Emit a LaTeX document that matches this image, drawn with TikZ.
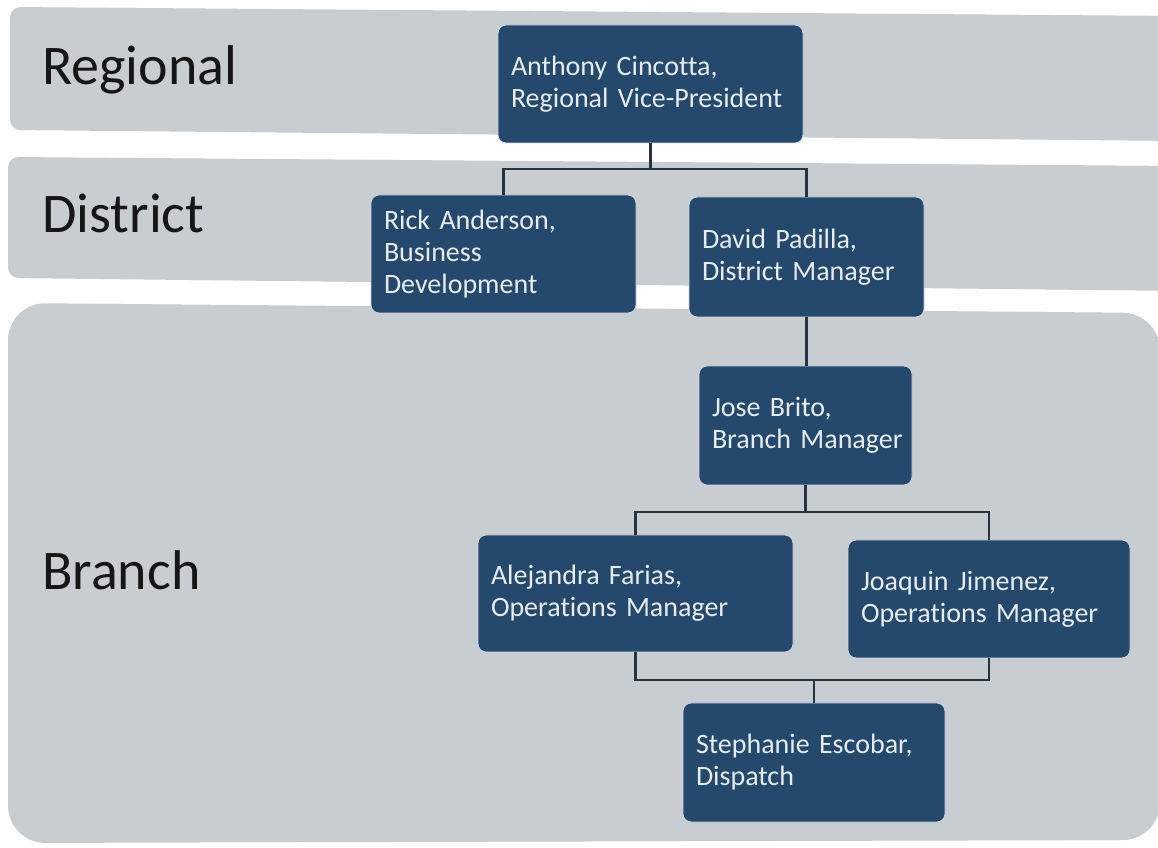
\documentclass[tikz,border=0pt]{standalone}
\usepackage{fontspec}
\setmainfont{Carlito}[Ligatures=NoCommon]
\usetikzlibrary{calc}

\definecolor{band}{RGB}{200,205,209}
\definecolor{boxfill}{RGB}{36,73,108}
\definecolor{boxedge}{RGB}{205,212,218}
\definecolor{boxtext}{RGB}{232,236,240}
\definecolor{wirecol}{RGB}{38,52,66}
\definecolor{labelcol}{RGB}{22,22,22}

% no hyphenation inside the boxes
\lefthyphenmin=64
\hyphenpenalty=10000

\begin{document}
\begin{tikzpicture}[x=0.75pt,y=-0.75pt,
  level/.style={font=\fontsize{42}{50}\selectfont, text=labelcol,
                anchor=base west, inner sep=0pt},
  person/.style={rectangle, rounded corners=6pt, fill=boxfill, draw=boxedge,
                 line width=0.7pt, text=boxtext, align=left,
                 font=\fontsize{21}{24}\selectfont,
                 inner xsep=9.75pt, inner ysep=0pt},
  wire/.style={draw=wirecol, line width=1.6pt}]

\useasboundingbox (0,0) rectangle (1158,848);
\clip (0,0) rectangle (1158,848);
\fill[white] (0,0) rectangle (1158,848);

% level bands
\fill[band, rounded corners=8pt]  (10,7)  -- (1180,16)  -- (1180,141) -- (10,130) -- cycle;
\fill[band, rounded corners=8pt]  (8,157) -- (1180,166) -- (1180,291) -- (8,278)  -- cycle;
\fill[band, rounded corners=28pt] (8,303) -- (1160,313) -- (1160,840) -- (8,843)  -- cycle;

% level labels
\node[level] (lregional) at (42,85)  {Regional};
\node[level] (ldistrict) at (42,233) {District};
\node[level] (lbranch)   at (42,590) {Branch};

% people
\node[person, text width=209.25pt, minimum height=88.5pt] (anthony) at (650.5,84)
  {Anthony Cincotta,\\Regional Vice-President};
\node[person, text width=179.25pt, minimum height=88.5pt] (rick) at (503.5,254)
  {Rick Anderson,\\Business\\Development};
\node[person, text width=156.75pt, minimum height=90pt] (david) at (806.5,257)
  {David Padilla,\\District Manager};
\node[person, text width=140.25pt, minimum height=89.25pt] (jose) at (805.5,425.5)
  {Jose Brito,\\Branch~Manager};
\node[person, text width=216.75pt, minimum height=87.75pt] (alejandra) at (635.5,593.5)
  {Alejandra Farias,\\Operations Manager};
\node[person, text width=192pt, minimum height=88.5pt] (joaquin) at (989,599)
  {Joaquin Jimenez,\\Operations Manager};
\node[person, text width=177pt, minimum height=89.25pt] (stephanie) at (814,762.5)
  {Stephanie Escobar,\\Dispatch};

% reporting lines
\coordinate (j1) at (anthony.south |- 0,169);
\draw[wire] (anthony.south) -- (j1);
\draw[wire] (rick.north) |- (j1) -| (david.north);

\draw[wire] (david.south) -- (david.south |- jose.north);

\coordinate (j3) at (jose.south |- 0,512);
\draw[wire] (jose.south) -- (j3);
\draw[wire] (alejandra.north) |- (j3) -| (joaquin.north);

\coordinate (j4) at (stephanie.north |- 0,680);
\draw[wire] (alejandra.south) |- (j4) -| (joaquin.south);
\draw[wire] (j4) -- (stephanie.north);

\end{tikzpicture}
\end{document}
